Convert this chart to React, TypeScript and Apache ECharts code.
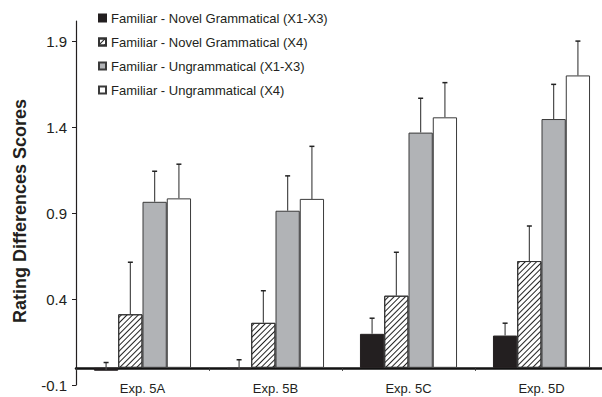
import React, { useEffect, useRef } from "react";
import * as echarts from "echarts";

const categories = ["Exp. 5A", "Exp. 5B", "Exp. 5C", "Exp. 5D"];
const seriesNames = [
  "Familiar - Novel Grammatical (X1-X3)",
  "Familiar - Novel Grammatical (X4)",
  "Familiar - Ungrammatical (X1-X3)",
  "Familiar - Ungrammatical (X4)",
];
const novelX1X3 = [-0.017, -0.008, 0.198, 0.188];
const novelX4 = [0.312, 0.262, 0.42, 0.622];
const ungramX1X3 = [0.967, 0.915, 1.37, 1.449];
const ungramX4 = [0.987, 0.984, 1.459, 1.703];

const novelX1X3Err = [0.048, 0.055, 0.091, 0.072];
const novelX4Err = [0.303, 0.187, 0.253, 0.204];
const ungramX1X3Err = [0.178, 0.203, 0.2, 0.202];
const ungramX4Err = [0.199, 0.306, 0.202, 0.2];

const yTicks = [-0.1, 0.4, 0.9, 1.4, 1.9];

const FONT = "Arial, 'Liberation Sans', sans-serif";
const GAP = 0.27;

export default function App() {
  const ref = useRef<HTMLDivElement>(null);
  useEffect(() => {
    if (!ref.current) return;
    const chart = echarts.init(ref.current, undefined, { renderer: "svg" });
    const means = [novelX1X3, novelX4, ungramX1X3, ungramX4];
    const errs = [novelX1X3Err, novelX4Err, ungramX1X3Err, ungramX4Err];
    const styles: any[] = [
      { color: "#231f20", borderColor: "#231f20", borderWidth: 1 },
      {
        color: "#ffffff",
        borderColor: "#333333",
        borderWidth: 1,
        decal: {
          symbol: "rect",
          symbolSize: 1,
          dashArrayX: [1, 0],
          dashArrayY: [1, 2.2],
          rotation: -Math.PI / 4,
          color: "#222222",
          backgroundColor: "#ffffff",
        },
      },
      { color: "#b1b3b6", borderColor: "#3a3a3a", borderWidth: 1 },
      { color: "#ffffff", borderColor: "#3a3a3a", borderWidth: 1 },
    ];
    const errData: number[][] = [];
    means.forEach((arr, s) =>
      arr.forEach((m, c) => errData.push([c, s, m, m + errs[s][c]]))
    );
    const barSeries = means.map((arr, s) => ({
      type: "bar",
      name: seriesNames[s],
      data: arr,
      barGap: "0%",
      barCategoryGap: GAP * 100 + "%",
      itemStyle: styles[s],
      z: 2,
    }));
    chart.setOption({
      animation: false,
      textStyle: { fontFamily: FONT },
      legend: {
        orient: "vertical",
        left: 93,
        top: 5,
        itemWidth: 7,
        itemHeight: 7,
        itemGap: 8,
        icon: "rect",
        textStyle: { fontSize: 13, color: "#231f20", lineHeight: 16, fontFamily: FONT },
        data: seriesNames,
      },
      grid: {
        left: 76,
        right: -6,
        top: 21,
        bottom: 12,
        containLabel: false,
        outerBoundsMode: "none",
      },
      xAxis: {
        type: "category",
        data: categories,
        axisLine: { onZero: true, lineStyle: { color: "#111", width: 2.5 } },
        axisTick: { show: true, length: 3, lineStyle: { color: "#333", width: 1 } },
        axisLabel: { fontSize: 13, color: "#231f20", margin: -3, fontFamily: FONT },
      },
      yAxis: {
        type: "value",
        min: -0.1,
        max: 2.02,
        splitLine: { show: false },
        axisLine: { show: true, lineStyle: { color: "#231f20", width: 1.2 } },
        axisTick: {
          show: true,
          length: 4,
          customValues: yTicks,
          lineStyle: { color: "#231f20" },
        },
        axisLabel: {
          fontSize: 15,
          color: "#231f20",
          margin: 9,
          customValues: yTicks,
          formatter: (v: number) => v.toFixed(1),
          fontFamily: FONT,
        },
      },
      graphic: [
        {
          type: "text",
          x: 20,
          y: 211,
          rotation: Math.PI / 2,
          style: {
            text: "Rating Differences Scores",
            fontSize: 18,
            fontWeight: "bold",
            fill: "#231f20",
            fontFamily: FONT,
            textAlign: "center",
            textVerticalAlign: "middle",
          },
        },
      ],
      series: [
        ...barSeries,
        {
          type: "custom",
          name: "err",
          data: errData,
          z: 3,
          renderItem: (params: any, api: any) => {
            const c = api.value(0);
            const s = api.value(1);
            const m = api.value(2);
            const t = api.value(3);
            const band = api.size([1, 0])[0];
            const bw = (band * (1 - GAP)) / 4;
            const off = (s - 1.5) * bw;
            const p0 = api.coord([c, m]);
            const p1 = api.coord([c, t]);
            const x = p0[0] + off;
            return {
              type: "group",
              children: [
                {
                  type: "line",
                  shape: { x1: x, y1: p0[1], x2: x, y2: p1[1] },
                  style: { stroke: "#4a4a4a", lineWidth: 1.2 },
                },
                {
                  type: "line",
                  shape: { x1: x - 2.5, y1: p1[1], x2: x + 2.5, y2: p1[1] },
                  style: { stroke: "#222", lineWidth: 1.5 },
                },
              ],
            };
          },
        },
      ],
    });
    return () => chart.dispose();
  }, []);
  return (
    <div
      ref={ref}
      style={{ position: "fixed", left: 0, top: 0, width: 602, height: 397, background: "#fff" }}
    />
  );
}
